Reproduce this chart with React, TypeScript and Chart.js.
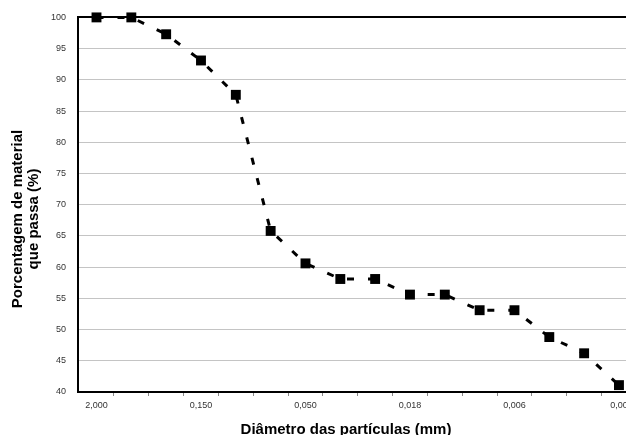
import React, { useEffect, useRef } from "react";
import { Chart, registerables } from "chart.js";

Chart.register(...registerables);

const passingPercent = [100, 100, 97.3, 93.1, 87.6, 65.8, 60.6, 58.1, 58.1, 55.6, 55.6, 53.1, 53.1, 48.8, 46.2, 41.1];
const tickLabels = ["2,000", "0,150", "0,050", "0,018", "0,006", "0,00"];
const labelEvery = 3;
const yTitle = ["Porcentagem de material", "que passa (%)"];
const xTitle = "Diâmetro das partículas (mm)";

const FONT = "'Liberation Sans', Arial, sans-serif";

const axisTitles = {
  id: "axisTitles",
  afterDraw(chart: any) {
    const ctx = chart.ctx;
    ctx.save();
    ctx.fillStyle = "#000";
    ctx.font = `bold 15px ${FONT}`;
    ctx.textAlign = "center";
    ctx.textBaseline = "middle";
    ctx.fillText(xTitle, 346, 430);
    ctx.translate(0, 219);
    ctx.rotate(-Math.PI / 2);
    ctx.fillText(yTitle[0], 0, 18);
    ctx.fillText(yTitle[1], 0, 34);
    ctx.restore();
  },
};

export default function App() {
  const ref = useRef<HTMLCanvasElement | null>(null);
  useEffect(() => {
    if (!ref.current) return;
    const points = passingPercent.map((v, i) => ({ x: i, y: v }));
    const chart = new Chart(ref.current, {
      type: "line",
      data: {
        datasets: [
          {
            data: points,
            borderColor: "#000",
            backgroundColor: "#000",
            borderWidth: 3,
            borderDash: [7, 14],
            pointStyle: "rect",
            pointRadius: 7,
            pointBorderWidth: 0,
            pointBackgroundColor: "#000",
            tension: 0,
            clip: false,
          } as any,
        ],
      },
      plugins: [axisTitles],
      options: {
        responsive: false,
        animation: false,
        events: [],
        layout: { padding: { top: 16, right: 0, left: 0, bottom: 0 } },
        plugins: { legend: { display: false }, tooltip: { enabled: false } },
        scales: {
          x: {
            type: "linear",
            min: -0.531,
            max: 15.403,
            afterBuildTicks: (scale: any) => {
              const t = [];
              for (let v = 0; v <= 15; v += 0.5) t.push({ value: v });
              scale.ticks = t;
            },
            afterFit: (scale: any) => {
              scale.height = 43;
            },
            ticks: {
              autoSkip: false,
              maxRotation: 0,
              minRotation: 0,
              padding: 4,
              color: "#333",
              font: { family: FONT, size: 9 },
              callback: (value: any) => {
                const v = Number(value);
                if (Number.isInteger(v) && v % labelEvery === 0) return tickLabels[v / labelEvery];
                return "";
              },
            },
            grid: {
              drawOnChartArea: false,
              drawTicks: true,
              tickLength: 4,
              color: (ctx: any) => (ctx.tick && ctx.tick.value % 1 !== 0 ? "#888" : "rgba(0,0,0,0)"),
            },
            border: { display: true, color: "#000", width: 2 },
          },
          y: {
            min: 40,
            max: 100,
            afterFit: (scale: any) => {
              scale.width = 78;
            },
            ticks: {
              stepSize: 5,
              padding: 12,
              color: "#333",
              font: { family: FONT, size: 9 },
            },
            grid: {
              drawTicks: false,
              color: (ctx: any) => (ctx.tick && ctx.tick.value === 100 ? "#000" : "#c4c4c4"),
              lineWidth: (ctx: any) => (ctx.tick && ctx.tick.value === 100 ? 2 : 1),
            },
            border: { display: true, color: "#000", width: 2 },
          },
        },
      },
    });
    return () => chart.destroy();
  }, []);
  return (
    <div style={{ position: "absolute", left: 0, top: 0, width: 626, height: 435, overflow: "hidden", background: "#fff" }}>
      <canvas ref={ref} width={640} height={435} style={{ display: "block" }} />
    </div>
  );
}
